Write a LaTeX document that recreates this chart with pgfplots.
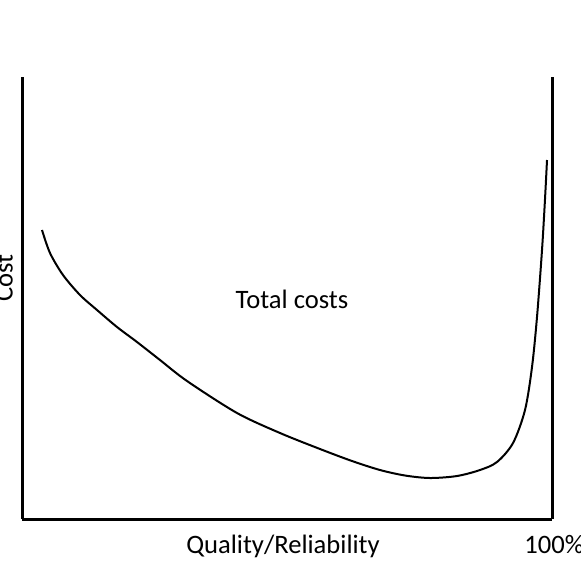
\documentclass[border=0pt]{standalone}
\usepackage{pgfplots}
\pgfplotsset{compat=1.18}
\usepackage{fontspec}
\setmainfont{Carlito}
\begin{document}
\fontsize{13.3}{16}\selectfont
\begin{tikzpicture}[x=0.5pt,y=0.5pt]
\useasboundingbox (0,0) rectangle (581,569);
\clip (0,0) rectangle (581,569);
\begin{axis}[
  at={(22,50)}, anchor=south west,
  scale only axis, width=265pt, height=221pt,
  xmin=22, xmax=552, ymin=0, ymax=442,
  axis x line=bottom, axis y line=box,
  axis line style={-, line width=1.5pt, black},
  xtick=\empty, ytick=\empty,
  clip=false,
]
\addplot[black, line width=1pt, smooth] coordinates {
(42,289) (50,266) (63,244) (80,224) (97,209) (117,192) (137,177) (160,159)
(187,138) (237,106) (280,86) (320,70) (352,58) (380,49) (405,43.5) (430,41)
(457,43) (480,49) (497,57) (513,76) (525,109) (532,152) (537,202) (542,269)
(545,320) (547,359)
};
\end{axis}
\node[rotate=90, anchor=base, inner sep=0] at (12.5,291) {Cost};
\node[anchor=base, inner sep=0] at (292,261) {Total costs};
\node[anchor=base, inner sep=0] at (283,16) {Quality/Reliability};
\node[anchor=base west, inner sep=0] at (524,16) {100\%};
\end{tikzpicture}
\end{document}
